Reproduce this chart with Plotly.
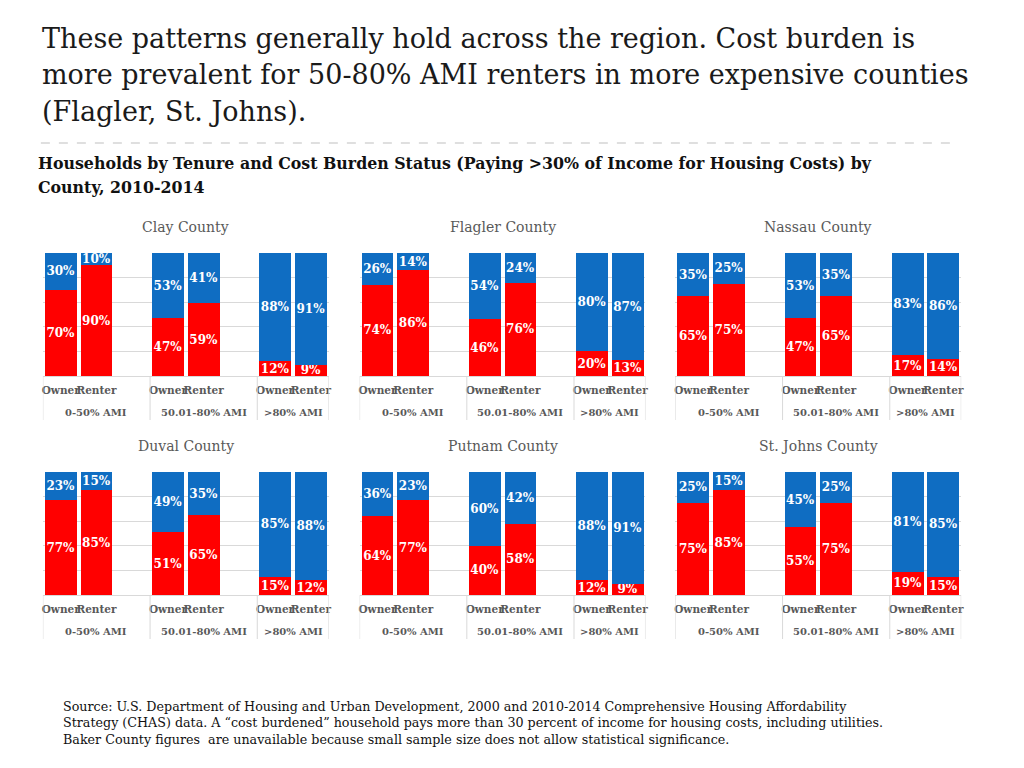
import plotly.graph_objects as go

# ---------------- data ----------------
counties = ["Clay County", "Flagler County", "Nassau County",
            "Duval County", "Putnam County", "St. Johns County"]
ami_groups = ["0-50% AMI", "50.01-80% AMI", ">80% AMI"]
tenures = ["Owner", "Renter"]

# order: [0-50 Owner, 0-50 Renter, 50.01-80 Owner, 50.01-80 Renter, >80 Owner, >80 Renter]
clay_burdened = [70, 90, 47, 59, 12, 9]
clay_not_burdened = [30, 10, 53, 41, 88, 91]
flagler_burdened = [74, 86, 46, 76, 20, 13]
flagler_not_burdened = [26, 14, 54, 24, 80, 87]
nassau_burdened = [65, 75, 47, 65, 17, 14]
nassau_not_burdened = [35, 25, 53, 35, 83, 86]
duval_burdened = [77, 85, 51, 65, 15, 12]
duval_not_burdened = [23, 15, 49, 35, 85, 88]
putnam_burdened = [64, 77, 40, 58, 12, 9]
putnam_not_burdened = [36, 23, 60, 42, 88, 91]
stjohns_burdened = [75, 85, 55, 75, 19, 15]
stjohns_not_burdened = [25, 15, 45, 25, 81, 85]

burdened = [clay_burdened, flagler_burdened, nassau_burdened,
            duval_burdened, putnam_burdened, stjohns_burdened]
not_burdened = [clay_not_burdened, flagler_not_burdened, nassau_not_burdened,
                duval_not_burdened, putnam_not_burdened, stjohns_not_burdened]

title_lines = [
    "These patterns generally hold across the region. Cost burden is",
    "more prevalent for 50-80% AMI renters in more expensive counties",
    "(Flagler, St. Johns).",
]
subtitle_lines = [
    "Households by Tenure and Cost Burden Status (Paying >30% of Income for Housing Costs) by",
    "County, 2010-2014",
]
source_lines = [
    "Source: U.S. Department of Housing and Urban Development, 2000 and 2010-2014 Comprehensive Housing Affordability",
    "Strategy (CHAS) data. A \u201ccost burdened\u201d household pays more than 30 percent of income for housing costs, including utilities.",
    "Baker County figures  are unavailable because small sample size does not allow statistical significance.",
]

# ---------------- styling / layout constants ----------------
OFF = 8                      # page body margin
W, H = 1024 - OFF, 768 - OFF
RED = "#FF0000"
BLUE = "#0F6DC2"
GRID = "#d9d9d9"
GRAY_TXT = "#595959"
SERIF = "DejaVu Serif"

panel_left = [42, 360, 677]
panel_width = 287
row_top = [253, 472]
row_bottom = [376, 595]
slots_per_group = 3
x_range = [-0.5, 7.5]


def xp(px):
    return (px - OFF) / W


def yp(py):
    return 1 - (py - OFF) / H


fig = go.Figure()
shapes = []
annotations = []
layout_axes = {}

pos = [slots_per_group * g + t for g in range(len(ami_groups)) for t in range(len(tenures))]
tick_text = [t for g in ami_groups for t in tenures]

for i, county in enumerate(counties):
    r, c = divmod(i, 3)
    n = "" if i == 0 else str(i + 1)
    xa, ya = "x" + n, "y" + n
    left = panel_left[c]
    right = left + panel_width
    top, bottom = row_top[r], row_bottom[r]

    for vals, col in ((burdened[i], RED), (not_burdened[i], BLUE)):
        fig.add_trace(go.Bar(
            x=pos, y=vals, xaxis=xa, yaxis=ya, width=0.89,
            marker=dict(color=col, line=dict(width=0)),
            text=[f"{v}%" for v in vals],
            textposition="inside", insidetextanchor="middle", textangle=0,
            textfont=dict(family=SERIF, size=12, color="white", weight="bold"),
            showlegend=False, hoverinfo="skip", cliponaxis=False,
        ))

    layout_axes["xaxis" + n] = dict(
        domain=[xp(left), xp(right)], range=x_range, anchor=ya,
        tickmode="array", tickvals=pos, ticktext=tick_text, tickangle=0,
        tickfont=dict(family=SERIF, size=10.5, color=GRAY_TXT, weight="bold"),
        ticks="", ticklabelstandoff=4, showgrid=False, zeroline=False,
        showline=True, linecolor=GRID, linewidth=1, fixedrange=True,
    )
    layout_axes["yaxis" + n] = dict(
        domain=[yp(bottom), yp(top)], range=[0, 100], anchor=xa,
        tickmode="array", tickvals=[0, 20, 40, 60, 80, 100],
        showticklabels=False, showgrid=True, gridcolor=GRID, gridwidth=1,
        zeroline=False, showline=False, fixedrange=True,
    )

    # group dividers
    div_x = [slots_per_group * g - 0.5 for g in range(len(ami_groups))] + [x_range[1]]
    for dx in div_x:
        shapes.append(dict(type="line", xref=xa, yref="paper", x0=dx, x1=dx,
                           y0=yp(bottom), y1=yp(bottom + 44),
                           line=dict(color=GRID, width=1)))
    # group labels
    for g, name in enumerate(ami_groups):
        g0 = slots_per_group * g - 0.5
        g1 = min(slots_per_group * (g + 1) - 0.5, x_range[1])
        annotations.append(dict(
            text=name, xref=xa, yref="paper", x=(g0 + g1) / 2, y=yp(bottom + 36),
            xanchor="center", yanchor="middle", showarrow=False,
            font=dict(family=SERIF, size=10, color=GRAY_TXT, weight="bold"),
        ))
    # panel title
    annotations.append(dict(
        text=county, xref="paper", yref="paper", x=xp((left + right) / 2),
        y=yp(top - 26), xanchor="center", yanchor="middle", showarrow=False,
        font=dict(family=SERIF, size=14, color=GRAY_TXT),
    ))

# main title
for k, line in enumerate(title_lines):
    annotations.append(dict(
        text=line, xref="paper", yref="paper", x=xp(39), y=yp(38 + 36.5 * k),
        xanchor="left", yanchor="middle", showarrow=False,
        font=dict(family=SERIF, size=27, color="#1a1a1a"),
    ))
# subtitle
for k, line in enumerate(subtitle_lines):
    annotations.append(dict(
        text=line, xref="paper", yref="paper", x=xp(35), y=yp(163 + 24 * k),
        xanchor="left", yanchor="middle", showarrow=False,
        font=dict(family=SERIF, size=15.8, color="#111111", weight="bold"),
    ))
# source
for k, line in enumerate(source_lines):
    annotations.append(dict(
        text=line, xref="paper", yref="paper", x=xp(60), y=yp(706 + 16.5 * k),
        xanchor="left", yanchor="middle", showarrow=False,
        font=dict(family=SERIF, size=12.7, color="#111111"),
    ))

# dashed separator
shapes.append(dict(type="line", xref="paper", yref="paper",
                   x0=xp(40), x1=xp(955), y0=yp(143), y1=yp(143),
                   line=dict(color="#bfbfbf", width=1, dash="dash")))

fig.update_layout(
    width=W, height=H, margin=dict(l=0, r=0, t=0, b=0),
    paper_bgcolor="white", plot_bgcolor="white",
    barmode="stack", uniformtext=dict(minsize=12, mode="show"),
    shapes=shapes, annotations=annotations, showlegend=False,
    **layout_axes,
)

fig.write_html("out.html")
